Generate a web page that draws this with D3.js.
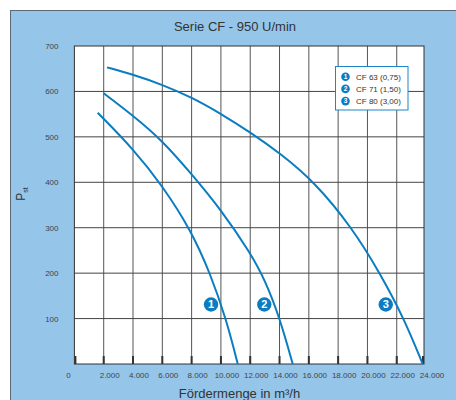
<!DOCTYPE html>
<html>
<head>
<meta charset="utf-8">
<script src="https://cdn.jsdelivr.net/npm/d3@7"></script>
<style>
  html, body { margin: 0; padding: 0; background: #ffffff; }
  svg { display: block; font-family: "Liberation Sans", Arial, sans-serif; }
</style>
</head>
<body>
<svg id="chart" width="456" height="400"></svg>
<script>
// ---- data ----
const title = "Serie CF - 950 U/min";
const xTitle = "Fördermenge in m³/h";
const seriesNames = ["CF 63 (0,75)", "CF 71 (1,50)", "CF 80 (3,00)"];
const seriesIds = ["1", "2", "3"];
// [flow m³/h, pressure Pa]
const cf63 = [[1590, 553], [4000, 474], [6000, 393], [8000, 292], [9260, 200], [10350, 100], [11150, 0]];
const cf71 = [[2000, 596], [4000, 547], [6000, 492], [8000, 418], [10000, 340], [12000, 245], [13010, 185], [14030, 100], [14900, 0]];
const cf80 = [[2225, 653], [4000, 637], [6000, 615], [8000, 587], [10000, 551], [12000, 510], [14000, 465], [16420, 400], [18950, 300], [20860, 200], [22500, 100], [23770, 0]];
// badge anchors in data units
const badgeAt = [[9325, 131], [12960, 131], [21250, 131]];
const xTicks = [0, 2000, 4000, 6000, 8000, 10000, 12000, 14000, 16000, 18000, 20000, 22000, 24000];
const xTickLabels = ["0", "2.000", "4.000", "6.000", "8.000", "10.000", "12.000", "14.000", "16.000", "18.000", "20.000", "22.000", "24.000"];
const yTicks = [100, 200, 300, 400, 500, 600, 700];
const yTickLabels = ["100", "200", "300", "400", "500", "600", "700"];

const series = [cf63, cf71, cf80];

(function () {
// ---- layout ----
const blue = "#0a7dc2";
const svg = d3.select("#chart");
const pL = 74.4, pR = 424, pT = 46, pB = 364;
const xMaxVisible = 23860;
const x = d3.scaleLinear().domain([0, xMaxVisible]).range([pL, pR]);
const y = d3.scaleLinear().domain([0, 700]).range([pB, pT]);

// outer frame
svg.append("rect")
  .attr("x", 10.5).attr("y", 10.5)
  .attr("width", 460).attr("height", 400)
  .attr("fill", "#95c5e9")
  .attr("stroke", "#5d6a75").attr("stroke-width", 1);

// title
svg.append("text")
  .attr("x", 235).attr("y", 30.5)
  .attr("text-anchor", "middle")
  .attr("font-size", 13)
  .attr("fill", "#333")
  .text(title);

// plot area
svg.append("rect")
  .attr("x", pL).attr("y", pT)
  .attr("width", pR - pL).attr("height", pB - pT)
  .attr("fill", "#fff");

const g = svg.append("g");
// vertical gridlines
g.selectAll(".vg").data(xTicks.filter(v => v > 0 && v < xMaxVisible)).join("line")
  .attr("x1", d => x(d)).attr("x2", d => x(d))
  .attr("y1", pT).attr("y2", pB)
  .attr("stroke", "#555").attr("stroke-width", 1);
// horizontal gridlines
g.selectAll(".hg").data(yTicks.filter(v => v < 700)).join("line")
  .attr("x1", pL).attr("x2", pR)
  .attr("y1", d => y(d)).attr("y2", d => y(d))
  .attr("stroke", "#444").attr("stroke-width", 1);

// plot border
svg.append("rect")
  .attr("x", pL).attr("y", pT)
  .attr("width", pR - pL).attr("height", pB - pT)
  .attr("fill", "none").attr("stroke", "#333").attr("stroke-width", 1);

// bottom tick marks (pointing up)
g.selectAll(".tk").data(xTicks.filter(v => v < xMaxVisible).concat([xMaxVisible])).join("line")
  .attr("x1", d => x(d) + (d === 0 ? 1 : (d === xMaxVisible ? -1 : 0)))
  .attr("x2", d => x(d) + (d === 0 ? 1 : (d === xMaxVisible ? -1 : 0)))
  .attr("y1", pB - 8).attr("y2", pB)
  .attr("stroke", "#333").attr("stroke-width", 2);

// x tick labels
svg.selectAll(".xl").data(xTicks).join("text")
  .attr("x", d => x(d) + (d === 0 ? -6 : 6))
  .attr("y", 378)
  .attr("text-anchor", "middle")
  .attr("font-size", 8)
  .attr("fill", "#444")
  .text((d, i) => xTickLabels[i]);

// y tick labels
svg.selectAll(".yl").data(yTicks).join("text")
  .attr("x", 58.5)
  .attr("y", d => y(d) + 3)
  .attr("text-anchor", "end")
  .attr("font-size", 8)
  .attr("fill", "#444")
  .text((d, i) => yTickLabels[i]);

// axis titles
svg.append("text")
  .attr("x", 239.5).attr("y", 398)
  .attr("text-anchor", "middle")
  .attr("font-size", 13)
  .attr("fill", "#333")
  .text(xTitle);

const yt = svg.append("text")
  .attr("transform", "translate(25,194) rotate(-90)")
  .attr("text-anchor", "middle")
  .attr("fill", "#333");
yt.append("tspan").attr("font-size", 12).text("P");
yt.append("tspan").attr("font-size", 7).attr("dy", 3).text("st");

// curves
const line = d3.line()
  .x(d => x(d[0])).y(d => y(d[1]))
  .curve(d3.curveBasis);
svg.selectAll(".curve").data(series).join("path")
  .attr("d", line)
  .attr("fill", "none")
  .attr("stroke", blue)
  .attr("stroke-width", 2);

// badges on curves
const badges = svg.selectAll(".badge").data(badgeAt).join("g")
  .attr("transform", d => `translate(${x(d[0])},${y(d[1])})`);
badges.append("circle").attr("r", 7.2).attr("fill", blue);
badges.append("text")
  .attr("text-anchor", "middle").attr("y", 3.8)
  .attr("font-size", 11).attr("font-weight", "bold")
  .attr("fill", "#fff")
  .text((d, i) => seriesIds[i]);

// legend
const lg = svg.append("g").attr("transform", "translate(335.5,66.5)");
lg.append("rect")
  .attr("width", 72.5).attr("height", 43.5)
  .attr("fill", "#fff")
  .attr("stroke", "#1c86c8").attr("stroke-width", 1);
const li = lg.selectAll(".li").data(seriesNames).join("g")
  .attr("transform", (d, i) => `translate(10,${10.2 + i * 12.2})`);
li.append("circle").attr("r", 4.3).attr("fill", blue);
li.append("text")
  .attr("text-anchor", "middle").attr("y", 2.3)
  .attr("font-size", 6.5).attr("font-weight", "bold")
  .attr("fill", "#fff")
  .text((d, i) => seriesIds[i]);
li.append("text")
  .attr("x", 10.5).attr("y", 2.9)
  .attr("font-size", 8)
  .attr("fill", "#333")
  .text(d => d);
})();
</script>
</body>
</html>
